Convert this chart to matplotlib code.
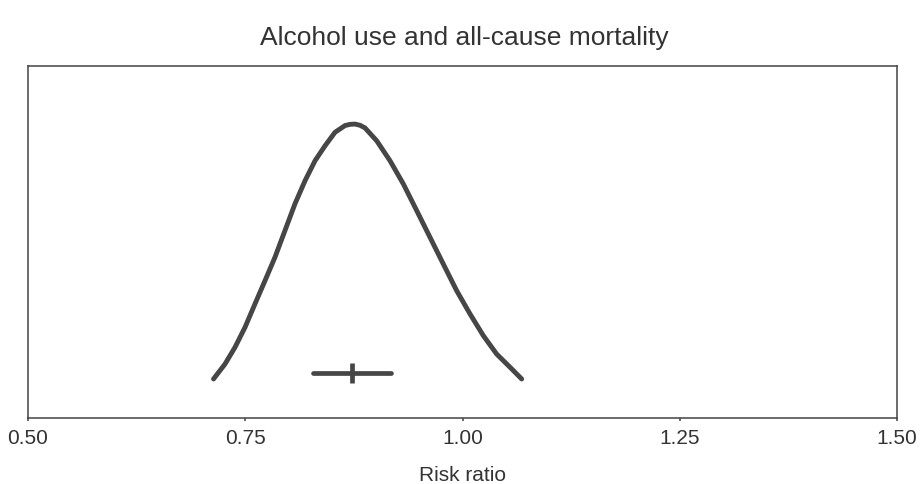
import numpy as np
import matplotlib
matplotlib.use('Agg')
import matplotlib.pyplot as plt

plt.rcParams['font.family'] = ['Liberation Sans', 'DejaVu Sans']

# Data.
# Density curve of the risk ratio (relative height, peak ~ 1).
curve_rr = [0.7135, 0.7267, 0.7382, 0.7497, 0.7612, 0.7727, 0.7842, 0.7957,
            0.8072, 0.8188, 0.8303, 0.8418, 0.8533, 0.8648, 0.8705, 0.8763,
            0.8820, 0.8878, 0.9013, 0.9166, 0.9319, 0.9473, 0.9626, 0.9779,
            0.9933, 1.0086, 1.0239, 1.0393, 1.0547, 1.0681]
curve_height = [0.133, 0.184, 0.241, 0.309, 0.389, 0.468, 0.548, 0.639,
                0.730, 0.809, 0.877, 0.928, 0.974, 0.997, 1.001, 1.002,
                0.998, 0.989, 0.945, 0.877, 0.798, 0.707, 0.616, 0.525,
                0.434, 0.355, 0.281, 0.218, 0.173, 0.133]

# Pooled estimate and 95% CI.
estimate = 0.8725
ci_low = 0.8279
ci_high = 0.9175
ci_height = 0.152

xticks = [0.50, 0.75, 1.00, 1.25, 1.50]

fig = plt.figure(figsize=(9.24, 4.85), dpi=100)
ax = fig.add_axes([28/924, 1 - 419/485, 869/924, 352/485])

dark = '#464646'
ax.plot(curve_rr, curve_height, color=dark, linewidth=3.5,
        solid_capstyle='round', solid_joinstyle='round')

ax.plot([ci_low, ci_high], [ci_height, ci_height], color=dark, linewidth=3.4,
        solid_capstyle='round')
ax.plot([estimate], [ci_height], marker='|', markersize=14.5,
        markeredgewidth=3.4, color=dark)

ax.set_xlim(0.5, 1.5)
ax.set_ylim(0, 1.2)
ax.set_xticks(xticks)
ax.set_xticklabels(['%.2f' % t for t in xticks])
ax.set_yticks([])

for side in ['left', 'right', 'top', 'bottom']:
    ax.spines[side].set_color('#444444')
    ax.spines[side].set_linewidth(1.1)

ax.tick_params(axis='x', direction='out', length=2.5, width=1.1,
               color='#444444', labelsize=15, labelcolor='#333333', pad=4.5)

fig.text(464/924, 1 - 45/485, 'Alcohol use and all-cause mortality',
         ha='center', va='baseline', fontsize=19, color='#333333')
fig.text(462.5/924, 1 - 481.5/485, 'Risk ratio',
         ha='center', va='baseline', fontsize=15, color='#333333')

plt.savefig('out.png', dpi=100)
plt.close()
